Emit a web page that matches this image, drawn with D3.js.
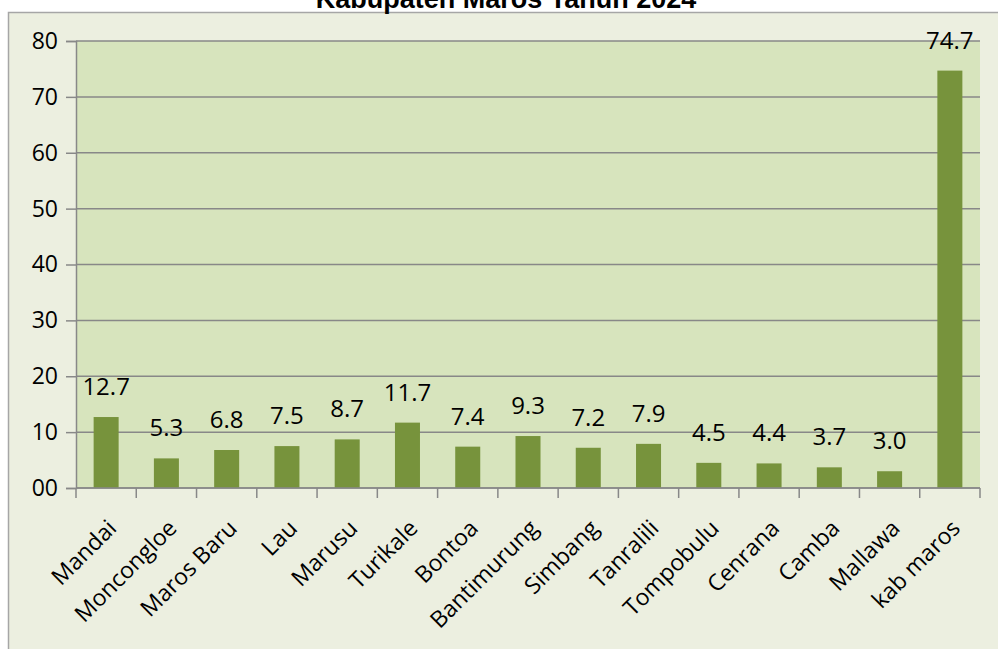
<!DOCTYPE html>
<html>
<head>
<meta charset="utf-8">
<script src="https://cdn.jsdelivr.net/npm/d3@7"></script>
<style>
  html, body { margin: 0; padding: 0; background: #ffffff; }
  svg { display: block; }
</style>
</head>
<body>
<svg id="chart" width="998" height="649"></svg>
<script>
const title = "Kabupaten Maros Tahun 2024";
const categories = ["Mandai", "Moncongloe", "Maros Baru", "Lau", "Marusu", "Turikale", "Bontoa", "Bantimurung", "Simbang", "Tanralili", "Tompobulu", "Cenrana", "Camba", "Mallawa", "kab maros"];
const values = [12.7, 5.3, 6.8, 7.5, 8.7, 11.7, 7.4, 9.3, 7.2, 7.9, 4.5, 4.4, 3.7, 3.0, 74.7];
const yTicks = [0, 10, 20, 30, 40, 50, 60, 70, 80];
const yTickLabels = ["00", "10", "20", "30", "40", "50", "60", "70", "80"];

const svg = d3.select("#chart");
const W = 998, H = 649;
const plot = { left: 76, right: 980, top: 41, bottom: 488 };
const font = "'Open Sans', 'Liberation Sans', sans-serif";
const gridColor = "#888888";

// outer chart area
svg.append("rect")
  .attr("x", 8.5).attr("y", 12.5)
  .attr("width", W + 10).attr("height", H + 10)
  .attr("fill", "#ECEFE0")
  .attr("stroke", "#A6A6A6").attr("stroke-width", 1.5);

// title (partially cut off at top, as in the reference)
svg.append("text")
  .attr("x", 506).attr("y", 8)
  .attr("text-anchor", "middle")
  .attr("font-family", "'Liberation Sans', Arial, sans-serif")
  .attr("font-weight", "bold")
  .attr("font-size", 27)
  .attr("fill", "#000")
  .text(title);

const x = d3.scaleBand()
  .domain(categories)
  .range([plot.left, plot.right])
  .paddingInner(0.585)
  .paddingOuter(0.2925);

const y = d3.scaleLinear().domain([0, 80]).range([plot.bottom, plot.top]);

// plot background
svg.append("rect")
  .attr("x", plot.left).attr("y", plot.top)
  .attr("width", plot.right - plot.left).attr("height", plot.bottom - plot.top)
  .attr("fill", "#D7E4BD");

// gridlines
svg.append("g").selectAll("line")
  .data(yTicks)
  .join("line")
  .attr("x1", plot.left).attr("x2", plot.right)
  .attr("y1", d => y(d)).attr("y2", d => y(d))
  .attr("stroke", gridColor).attr("stroke-width", 1.5);

// y axis
const yAxis = d3.axisLeft(y)
  .tickValues(yTicks)
  .tickFormat((d, i) => yTickLabels[i])
  .tickSize(10)
  .tickPadding(8);
const gy = svg.append("g")
  .attr("transform", `translate(${plot.left},0)`)
  .call(yAxis);
gy.select(".domain").attr("stroke", gridColor).attr("stroke-width", 1.5);
gy.selectAll(".tick line").attr("stroke", gridColor).attr("stroke-width", 1.5);
gy.selectAll(".tick text")
  .attr("font-family", font).attr("font-size", 23).attr("fill", "#000");

// bars
svg.append("g").selectAll("rect")
  .data(values)
  .join("rect")
  .attr("x", (d, i) => x(categories[i]))
  .attr("y", d => y(d))
  .attr("width", x.bandwidth())
  .attr("height", d => y(0) - y(d))
  .attr("fill", "#77933C");

// x axis line and ticks (at category boundaries)
svg.append("line")
  .attr("x1", plot.left).attr("x2", plot.right)
  .attr("y1", plot.bottom).attr("y2", plot.bottom)
  .attr("stroke", gridColor).attr("stroke-width", 1.5);
const step = x.step();
svg.append("g").selectAll("line")
  .data(d3.range(categories.length + 1))
  .join("line")
  .attr("x1", i => plot.left + i * step).attr("x2", i => plot.left + i * step)
  .attr("y1", plot.bottom).attr("y2", plot.bottom + 10)
  .attr("stroke", gridColor).attr("stroke-width", 1.5);

// x labels
svg.append("g").selectAll("text")
  .data(categories)
  .join("text")
  .attr("transform", d => `translate(${x(d) + x.bandwidth() / 2 + 6},${plot.bottom + 36}) rotate(-45)`)
  .attr("text-anchor", "end")
  .attr("dy", "0.35em")
  .attr("font-family", font).attr("font-size", 23).attr("fill", "#000")
  .text(d => d);

// data labels
svg.append("g").selectAll("text")
  .data(values)
  .join("text")
  .attr("x", (d, i) => x(categories[i]) + x.bandwidth() / 2)
  .attr("y", d => y(d) - 22)
  .attr("text-anchor", "middle")
  .attr("font-family", font).attr("font-size", 24).attr("fill", "#000")
  .text(d => d.toFixed(1));
</script>
</body>
</html>
